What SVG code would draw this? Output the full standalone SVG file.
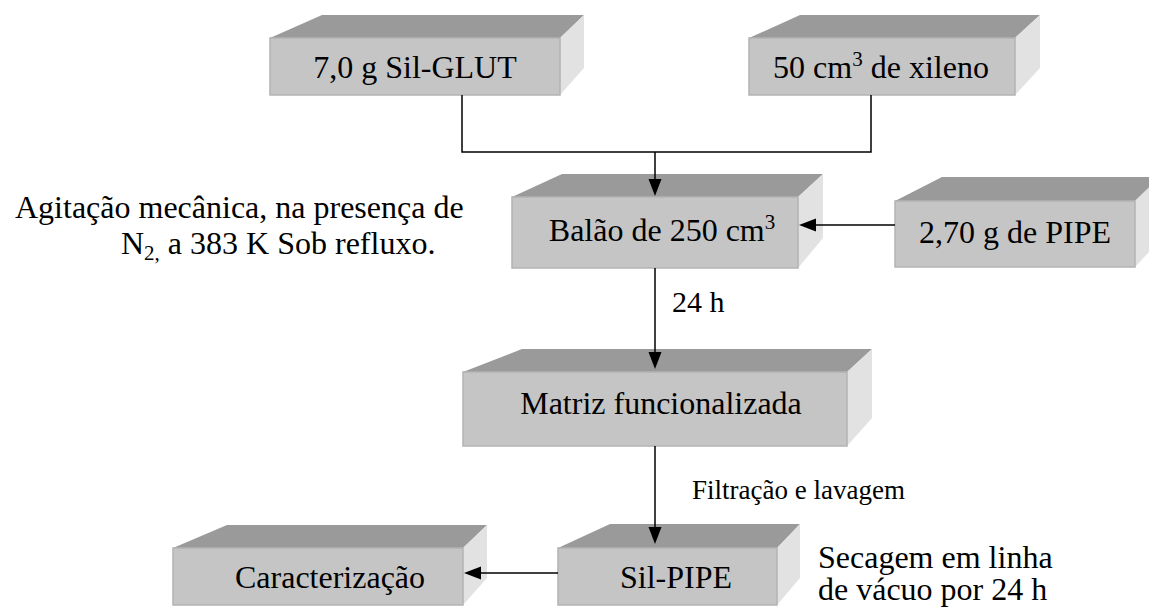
<svg xmlns="http://www.w3.org/2000/svg" width="1149" height="607" viewBox="0 0 1149 607">
<style>
.top{fill:#9a9a9a}
.front{fill:#c5c5c5;stroke:#b3b3b3;stroke-width:1.5}
.side{fill:#e2e2e2}
.ln{stroke:#000;stroke-width:1.5;fill:none}
.ah{fill:#000;stroke:none}
text{font-family:'Liberation Serif','Times New Roman',serif;font-size:32px;fill:#000}
</style>
<rect width="1149" height="607" fill="#fff"/>

<g id="sil-glut">
<polygon class="top" points="270,38 322,15 584,15 560,38"/>
<polygon class="side" points="560,38 584,15 584,68 560,95"/>
<rect class="front" x="270" y="38" width="290" height="57"/>
<text text-anchor="middle" x="415" y="78">7,0 g Sil-GLUT</text>
</g>

<g id="xileno">
<polygon class="top" points="749,38 800,15 1040,15 1015,38"/>
<polygon class="side" points="1015,38 1040,15 1040,68 1015,95"/>
<rect class="front" x="749" y="38" width="266" height="57"/>
<text text-anchor="middle" x="881" y="78">50 cm<tspan dy="-12" style="font-size:21px">3</tspan><tspan dy="12"> de xileno</tspan></text>
</g>

<g id="balao">
<polygon class="top" points="512,197 562,174 823,174 798,197"/>
<polygon class="side" points="798,197 823,174 823,238 798,268"/>
<rect class="front" x="512" y="197" width="286" height="71"/>
<text text-anchor="middle" x="662" y="241">Balão de 250 cm<tspan dy="-12" style="font-size:21px">3</tspan></text>
</g>

<g id="pipe">
<polygon class="top" points="895,201 942,177 1160,177 1135,201"/>
<polygon class="side" points="1135,201 1160,177 1160,240 1135,267"/>
<rect class="front" x="895" y="201" width="240" height="66"/>
<text text-anchor="middle" x="1015" y="243">2,70 g de PIPE</text>
</g>

<g id="matriz">
<polygon class="top" points="463,372 522,349 872,349 847,372"/>
<polygon class="side" points="847,372 872,349 872,418 847,446"/>
<rect class="front" x="463" y="372" width="384" height="74"/>
<text text-anchor="middle" x="661" y="414">Matriz funcionalizada</text>
</g>

<g id="sil-pipe">
<polygon class="top" points="558,548 610,524 800,524 777,548"/>
<polygon class="side" points="777,548 800,524 800,578 777,605"/>
<rect class="front" x="558" y="548" width="219" height="57"/>
<text text-anchor="middle" x="676" y="588">Sil-PIPE</text>
</g>

<g id="caracterizacao">
<polygon class="top" points="173,548 227,525 487,525 463,548"/>
<polygon class="side" points="463,548 487,525 487,578 463,605"/>
<rect class="front" x="173" y="548" width="290" height="57"/>
<text text-anchor="middle" x="330" y="588">Caracterização</text>
</g>

<g id="connectors">
<polyline class="ln" points="462,95 462,152 871,152 871,95"/>
<line class="ln" x1="655" y1="152" x2="655" y2="180"/>
<polygon class="ah" points="648.5,179 661.5,179 655,196"/>
<line class="ln" x1="895" y1="225" x2="815" y2="225"/>
<polygon class="ah" points="816,218.5 816,231.5 799,225"/>
<line class="ln" x1="655" y1="268" x2="655" y2="353"/>
<polygon class="ah" points="648.5,352 661.5,352 655,369"/>
<line class="ln" x1="655" y1="446" x2="655" y2="528"/>
<polygon class="ah" points="648.5,527 661.5,527 655,544"/>
<line class="ln" x1="558" y1="573" x2="480" y2="573"/>
<polygon class="ah" points="481,566.5 481,579.5 464,573"/>
</g>

<g id="labels">
<text x="15" y="218">Agitação mecânica, na presença de</text>
<text x="121" y="254">N<tspan dy="6" style="font-size:21px">2,</tspan><tspan dy="-6"> a 383 K Sob refluxo.</tspan></text>
<text x="672" y="312" style="font-size:30px">24 h</text>
<text x="692" y="499" style="font-size:27px">Filtração e lavagem</text>
<text x="818" y="568">Secagem em linha</text>
<text x="818" y="600">de vácuo por 24 h</text>
</g>
</svg>
